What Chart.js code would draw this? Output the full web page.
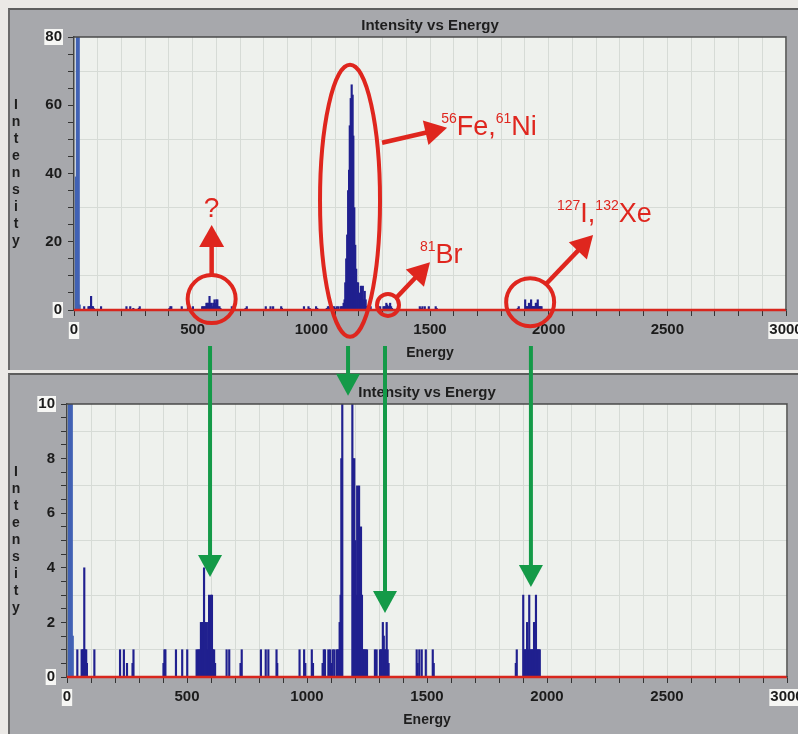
<!DOCTYPE html>
<html><head><meta charset="utf-8">
<script src="https://cdn.jsdelivr.net/npm/chart.js@4.4.1/dist/chart.umd.min.js"></script>
<style>
html,body{margin:0;padding:0;}
body{width:798px;height:734px;overflow:hidden;background:#ebe9e6;position:relative;font-family:"Liberation Sans",Arial,sans-serif;}
.panel{position:absolute;background:#a7a8ac;box-sizing:border-box;border-top:2px solid #5e5e5e;border-left:2px solid #6a6a6a;}
#p1{left:8px;top:8px;width:790px;height:362px;}
#p2{left:8px;top:373px;width:790px;height:361px;}
canvas{position:absolute;}
#c1{left:8px;top:8px;}
#c2{left:8px;top:373px;}
#ov{position:absolute;left:0;top:0;}
</style></head>
<body>
<div class="panel" id="p1"></div>
<div class="panel" id="p2"></div>
<canvas id="c1" width="790" height="362"></canvas>
<canvas id="c2" width="790" height="361"></canvas>
<svg id="ov" width="798" height="734" xmlns="http://www.w3.org/2000/svg"></svg>
<script>
// ---------- data ----------
const energy = [
  8,12,16,20,24,43,61,65,68,72,76,80,83,114,
  221,237,250,273,277,402,406,410,454,480,501,
  540,545,550,554,558,562,566,571,575,580,584,588,592,596,600,604,608,613,617,
  665,676,723,728,808,828,839,873,876,969,988,993,1020,1025,1065,1070,1075,1089,1096,1102,1107,1114,1124,1128,1132,
  1136,1140,1143,1147,1151,1155,1159,1162,1166,1170,1174,1177,1181,1185,1189,1193,1197,1201,1205,1209,1213,1217,1221,1225,1229,1233,1237,1241,1245,1250,
  1283,1290,1304,1308,1312,1316,1320,1324,1328,1332,1336,1340,
  1457,1461,1468,1478,1495,1524,1528,
  1870,1874,1901,1905,1909,1913,1917,1922,1926,1930,1934,1938,1942,1946,1950,1954,1958,1962,1966,1970
];
const counts = [
  39,120,120,120,1.5,1,1,1,1,4,1,1,0.5,1,
  1,1,0.5,0.5,1,0.5,1,1,1,1,1,
  1,1,1,1,2,2,2,4,2,2,1,2,3,2,3,3,1,1,0.5,
  1,1,0.5,1,1,1,1,1,0.5,1,1,0.5,1,0.5,0.5,1,1,1,1,0.5,1,1,1,1,1,
  2,3,8,15,22,35,41,54,62,66,63,51,30,19,12,8,8,5,3,7,3,7,3,5.5,3,1,1,1,1,1,
  1,1,1,1,1,2,1.5,1,1,2,1,0.5,
  1,0.5,1,1,1,1,0.5,
  0.5,1,3,1,1,1,2,1,3,1,1,1,1,2,2,3,1,1,1,1
];
const baseline = [0, 3000];
const xRange = [0, 3000];
const yMaxTop = 80, yMaxBottom = 10;
const chartTitle = 'Intensity vs Energy';
const xTitle = 'Energy';
const yTitle = 'Intensity';

// annotation anchors (energy, intensity) in the upper chart
const circles = [[580,3.2,24,24],[1163,32,30,136],[1323,1.5,11,11],[1922,2.3,24,24]];
const redArrows = [[580,10.3,580,24.9],[1298,49,1572,53.4],[1361,3.8,1500,14],[1989,7.6,2187,22]];
const redLabels = [
  {e:580, v:27.3, anchor:'middle', parts:[['?',0]]},
  {e:1458, v:13.8, anchor:'start', parts:[['81',1],['Br',0]]},
  {e:1547, v:51.3, anchor:'start', parts:[['56',1],['Fe,',0],['61',1],['Ni',0]]},
  {e:2035, v:25.8, anchor:'start', parts:[['127',1],['I,',0],['132',1],['Xe',0]]}
];
// green arrows: energy in the lower chart and intensity of the tip
const greenArrows = [[596,3.66],[1171,10.3],[1325,2.34],[1933,3.3]];

// ---------- charts ----------
const FONT = '"Liberation Sans", Arial, sans-serif';
Chart.defaults.font.family = FONT;
const points = energy.map((e,i)=>({x:e, y:counts[i]}));
const NAVY = '#20208f', LIGHTBLUE = '#4262b4';

function barColor(c){
  const r = c.raw; if(!r) return NAVY;
  if (r.x < 30) return LIGHTBLUE;
  const max = c.chart.scales.y.max, d = c.dataset.data, i = c.dataIndex;
  if (r.y > max && d[i-1] && d[i+1] && d[i-1].y > max && d[i+1].y > max) return 'rgba(0,0,0,0)';
  return NAVY;
}

const deco = {
  id:'deco',
  beforeDraw(chart){
    const {ctx, chartArea:a} = chart;
    const xs = chart.scales.x, ys = chart.scales.y;
    ctx.save();
    ctx.fillStyle = '#eef1ed';
    ctx.fillRect(a.left, a.top, a.right-a.left, a.bottom-a.top);
    ctx.font = 'bold 15px ' + FONT;
    ctx.fillStyle = '#f6f6f4';
    [ys.min, ys.max].forEach(v=>{
      const w = ctx.measureText(String(v)).width;
      ctx.fillRect(a.left-12-w-1, ys.getPixelForValue(v)-8, w+2, 16);
    });
    [xs.min, xs.max].forEach(v=>{
      const w = ctx.measureText(String(v)).width;
      ctx.fillRect(xs.getPixelForValue(v)-w/2-1, a.bottom+12, w+2, 17);
    });
    ctx.restore();
  },
  afterDraw(chart){
    const {ctx, chartArea:a} = chart;
    ctx.save();
    ctx.strokeStyle = '#4a4a4a'; ctx.lineWidth = 1.5;
    ctx.beginPath(); ctx.moveTo(a.left,a.top); ctx.lineTo(a.right,a.top); ctx.lineTo(a.right,a.bottom); ctx.stroke();
    ctx.fillStyle = '#1e1e1e';
    ctx.textAlign = 'center'; ctx.textBaseline = 'middle';
    ctx.font = 'bold 15px ' + FONT;
    ctx.fillText(chartTitle, (a.left+a.right)/2, a.top-11);
    ctx.font = 'bold 14px ' + FONT;
    ctx.fillText(xTitle, (a.left+a.right)/2, a.bottom+43);
    const letters = [...yTitle]; const mid = (a.top+a.bottom)/2;
    letters.forEach((ch,i)=>ctx.fillText(ch, 8, mid + (i-(letters.length-1)/2)*17));
    ctx.restore();
  }
};

function build(id, o){
  return new Chart(document.getElementById(id), {
    type:'bar',
    data:{datasets:[
      {type:'line', data: baseline.map(x=>({x, y:0})), borderColor:'#d8261d', borderWidth:2.5, pointRadius:0, order:0, clip:false},
      {type:'bar', data: points, backgroundColor: barColor, barThickness:1.5, borderWidth:0, order:1}
    ]},
    options:{
      responsive:false, animation:false, events:[],
      layout:{padding:{left:0, right:o.padR, top:o.padT, bottom:0}},
      plugins:{legend:{display:false}, tooltip:{enabled:false}},
      scales:{
        x:{type:'linear', min:xRange[0], max:xRange[1], offset:false,
          afterFit:s=>{s.height=o.xH; s.paddingLeft=0; s.paddingRight=0;},
          grid:{offset:false, color:'#d6dbd6', lineWidth:1, tickColor:'#333', tickLength:6, drawTicks:true},
          border:{display:true, color:'#444', width:1.5},
          ticks:{stepSize:100, autoSkip:false, maxRotation:0, padding:5, color:'#1b1b1b', font:{size:15, weight:'bold'},
            callback:v=> (v%500===0 ? String(v) : '')}
        },
        y:{min:0, max:o.yMax,
          afterFit:s=>{s.width=o.yW; s.paddingTop=0; s.paddingBottom=0;},
          grid:{color:c=>{const k=Math.round(c.tick.value/(o.lab/2)*1000)/1000; return (Number.isInteger(k) && k%2===1)?'#d6dbd6':'rgba(0,0,0,0)';}, tickColor:'#333', tickLength:6},
          border:{display:true, color:'#444', width:1.5},
          ticks:{stepSize:o.minor, autoSkip:false, padding:6, color:'#1b1b1b', font:{size:15, weight:'bold'},
            callback:v=>{const k=Math.round(v*100)/100; return (Math.abs(k/o.lab - Math.round(k/o.lab))<1e-6)? String(k):'';}}
        }
      }
    },
    plugins:[deco]
  });
}
const c1 = build('c1', {padR:12, padT:29, xH:60, yW:66, yMax:yMaxTop, minor:5, lab:20});
const c2 = build('c2', {padR:11, padT:31, xH:57, yW:59, yMax:yMaxBottom, minor:0.5, lab:2});

// ---------- overlay annotations ----------
const NS='http://www.w3.org/2000/svg';
const svg=document.getElementById('ov');
function P1(e,v){return [8+c1.scales.x.getPixelForValue(e), 8+c1.scales.y.getPixelForValue(v)];}
function P2(e,v){return [8+c2.scales.x.getPixelForValue(e), 373+c2.scales.y.getPixelForValue(v)];}
function el(tag, attrs){const n=document.createElementNS(NS,tag); for(const k in attrs) n.setAttribute(k, attrs[k]); svg.appendChild(n); return n;}
function arrow(x1,y1,x2,y2,color,sw,hl,hw){
  const dx=x2-x1, dy=y2-y1, L=Math.hypot(dx,dy), ux=dx/L, uy=dy/L;
  const bx=x2-ux*hl, by=y2-uy*hl;
  el('line',{x1,y1,x2:bx+ux*2,y2:by+uy*2,stroke:color,'stroke-width':sw});
  el('polygon',{points:`${x2},${y2} ${bx-uy*hw/2},${by+ux*hw/2} ${bx+uy*hw/2},${by-ux*hw/2}`, fill:color});
}
const RED='#df261e', GREEN='#149a48';
circles.forEach(([e,v,rx,ry])=>{const [cx,cy]=P1(e,v); el('ellipse',{cx,cy,rx,ry,fill:'none',stroke:RED,'stroke-width':4});});
redArrows.forEach(([e1,v1,e2,v2])=>{const [x1,y1]=P1(e1,v1), [x2,y2]=P1(e2,v2); arrow(x1,y1,x2,y2,RED,4.5,22,25);});
redLabels.forEach(l=>{
  const [x,y]=P1(l.e,l.v);
  const t=el('text',{x,y,'text-anchor':l.anchor,fill:RED,'font-family':FONT});
  let up=false;
  l.parts.forEach(([s,sup])=>{
    const ts=document.createElementNS(NS,'tspan');
    ts.textContent=s;
    ts.setAttribute('font-size', sup?14:(s==='?'?28:27));
    if(sup && !up){ts.setAttribute('dy',-12); up=true;}
    else if(!sup && up){ts.setAttribute('dy',12); up=false;}
    t.appendChild(ts);
  });
});
const gStart = 8 + c1.chartArea.bottom + 36;
greenArrows.forEach(([e,v])=>{const [x,y]=P2(e,v); arrow(x,gStart,x,y,GREEN,4,22,24);});
</script>
</body></html>
